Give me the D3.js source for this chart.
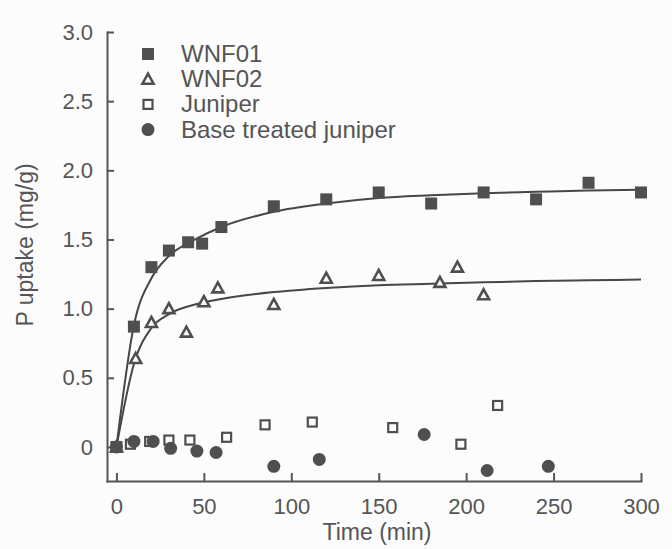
<!DOCTYPE html>
<html>
<head>
<meta charset="utf-8">
<script src="https://cdn.jsdelivr.net/npm/d3@7"></script>
<style>
	html, body { margin: 0; padding: 0; background: #fcfcfc; }
	svg { display: block; font-family: "Liberation Sans", Arial, sans-serif; }
	.axis text { fill: #555; font-size: 22px; }
	.axis path, .axis line { stroke: #555; stroke-width: 2; }
</style>
</head>
<body>
<div id="chart"></div>
<script>
const wnf01Time = [0, 10, 20, 30, 41, 49, 60, 90, 120, 150, 180, 210, 240, 270, 300];
const wnf01Value = [0, 0.87, 1.30, 1.42, 1.48, 1.47, 1.59, 1.74, 1.79, 1.84, 1.76, 1.84, 1.79, 1.91, 1.84];

const wnf02Time = [0, 11, 20, 30, 40, 50, 58, 90, 120, 150, 185, 195, 210];
const wnf02Value = [0, 0.64, 0.90, 1.00, 0.83, 1.05, 1.15, 1.03, 1.22, 1.24, 1.19, 1.30, 1.10];

const juniperTime = [0, 8, 19, 30, 42, 63, 85, 112, 158, 197, 218];
const juniperValue = [0, 0.02, 0.04, 0.05, 0.05, 0.07, 0.16, 0.18, 0.14, 0.02, 0.30];

const baseTime = [0, 10, 21, 31, 46, 57, 90, 116, 176, 212, 247];
const baseValue = [0, 0.04, 0.04, -0.01, -0.03, -0.04, -0.14, -0.09, 0.09, -0.17, -0.14];

// fitted curves, sampled from the figure
const fitTime = [0, 10, 20, 30, 45, 60, 90, 120, 150, 180, 210, 240, 270, 300];
const fit01Value = [0, 0.88, 1.22, 1.38, 1.50, 1.59, 1.70, 1.76, 1.80, 1.82, 1.835, 1.845, 1.855, 1.86];
const fit02Value = [0, 0.60, 0.86, 0.96, 1.03, 1.07, 1.12, 1.15, 1.17, 1.18, 1.19, 1.20, 1.205, 1.21];

const xTicks = [0, 50, 100, 150, 200, 250, 300];
const yTicks = [0, 0.5, 1.0, 1.5, 2.0, 2.5, 3.0];

const seriesNames = ['WNF01', 'WNF02', 'Juniper', 'Base treated juniper'];

const options = {
	w: 672,
	h: 549,
	left: 107,
	right: 641,
	top: 32,
	bottom: 481,
	ink: '#4f4f4f'
};

const zip = (t, v) => t.map((d, i) => ({ t: d, v: v[i] }));

const svg = d3.select('#chart')
	.append('svg')
	.attr('width', options.w)
	.attr('height', options.h);

svg.append('rect')
	.attr('width', options.w)
	.attr('height', options.h)
	.attr('fill', '#fcfcfc');

const x = d3.scaleLinear().domain([-5.4, 300]).range([options.left, options.right]);
const y = d3.scaleLinear().domain([-0.246, 3.0]).range([options.bottom, options.top]);

// axes
svg.append('g')
	.attr('class', 'axis')
	.attr('transform', `translate(0,${options.bottom})`)
	.call(d3.axisBottom(x).tickValues(xTicks).tickSizeInner(-8).tickSizeOuter(0).tickPadding(17));

svg.append('g')
	.attr('class', 'axis')
	.attr('transform', `translate(${options.left},0)`)
	.call(d3.axisLeft(y).tickValues(yTicks).tickSizeInner(-7).tickSizeOuter(0).tickPadding(14)
		.tickFormat(d => d === 0 ? '0' : d3.format('.1f')(d)));

svg.selectAll('.axis .domain').attr('stroke-linecap', 'square');

// axis titles
svg.append('text')
	.attr('x', 377)
	.attr('y', 540)
	.attr('text-anchor', 'middle')
	.attr('font-size', 23)
	.attr('fill', '#555')
	.text('Time (min)');

svg.append('text')
	.attr('transform', 'translate(33,245) rotate(-90)')
	.attr('text-anchor', 'middle')
	.attr('font-size', 23)
	.attr('fill', '#555')
	.text('P uptake (mg/g)');

// fit lines
const line = d3.line()
	.x(d => x(d.t))
	.y(d => y(d.v))
	.curve(d3.curveMonotoneX);

[fit01Value, fit02Value].forEach(vals => {
	svg.append('path')
		.datum(zip(fitTime, vals))
		.attr('d', line)
		.attr('fill', 'none')
		.attr('stroke', '#474747')
		.attr('stroke-width', 2);
});

// marker drawing
function drawMarker(g, kind) {
	if (kind === 0) {
		g.append('rect').attr('x', -6).attr('y', -6).attr('width', 12).attr('height', 12)
			.attr('fill', options.ink);
	} else if (kind === 1) {
		g.append('path').attr('d', 'M0,-5.5L5.5,4.5L-5.5,4.5Z')
			.attr('fill', '#fcfcfc').attr('stroke', options.ink).attr('stroke-width', 2.6)
			.attr('stroke-linejoin', 'miter');
	} else if (kind === 2) {
		g.append('rect').attr('x', -4.5).attr('y', -4.5).attr('width', 9).attr('height', 9)
			.attr('fill', '#fcfcfc').attr('stroke', options.ink).attr('stroke-width', 2.2);
	} else {
		g.append('circle').attr('r', 6.5).attr('fill', options.ink);
	}
}

const series = [
	zip(juniperTime, juniperValue),
	zip(wnf02Time, wnf02Value),
	zip(baseTime, baseValue),
	zip(wnf01Time, wnf01Value)
];
const kinds = [2, 1, 3, 0];

series.forEach((data, si) => {
	svg.append('g')
		.selectAll('g')
		.data(data)
		.enter()
		.append('g')
		.attr('transform', d => `translate(${x(d.t)},${y(d.v)})`)
		.each(function() { drawMarker(d3.select(this), kinds[si]); });
});

// legend
const legend = svg.append('g').attr('transform', 'translate(148,54)');
seriesNames.forEach((name, i) => {
	const row = legend.append('g').attr('transform', `translate(0,${i * 25.2})`);
	drawMarker(row, i);
	row.append('text')
		.attr('x', 33)
		.attr('y', 8)
		.attr('font-size', 24)
		.attr('fill', '#555')
		.text(name);
});
</script>
</body>
</html>
